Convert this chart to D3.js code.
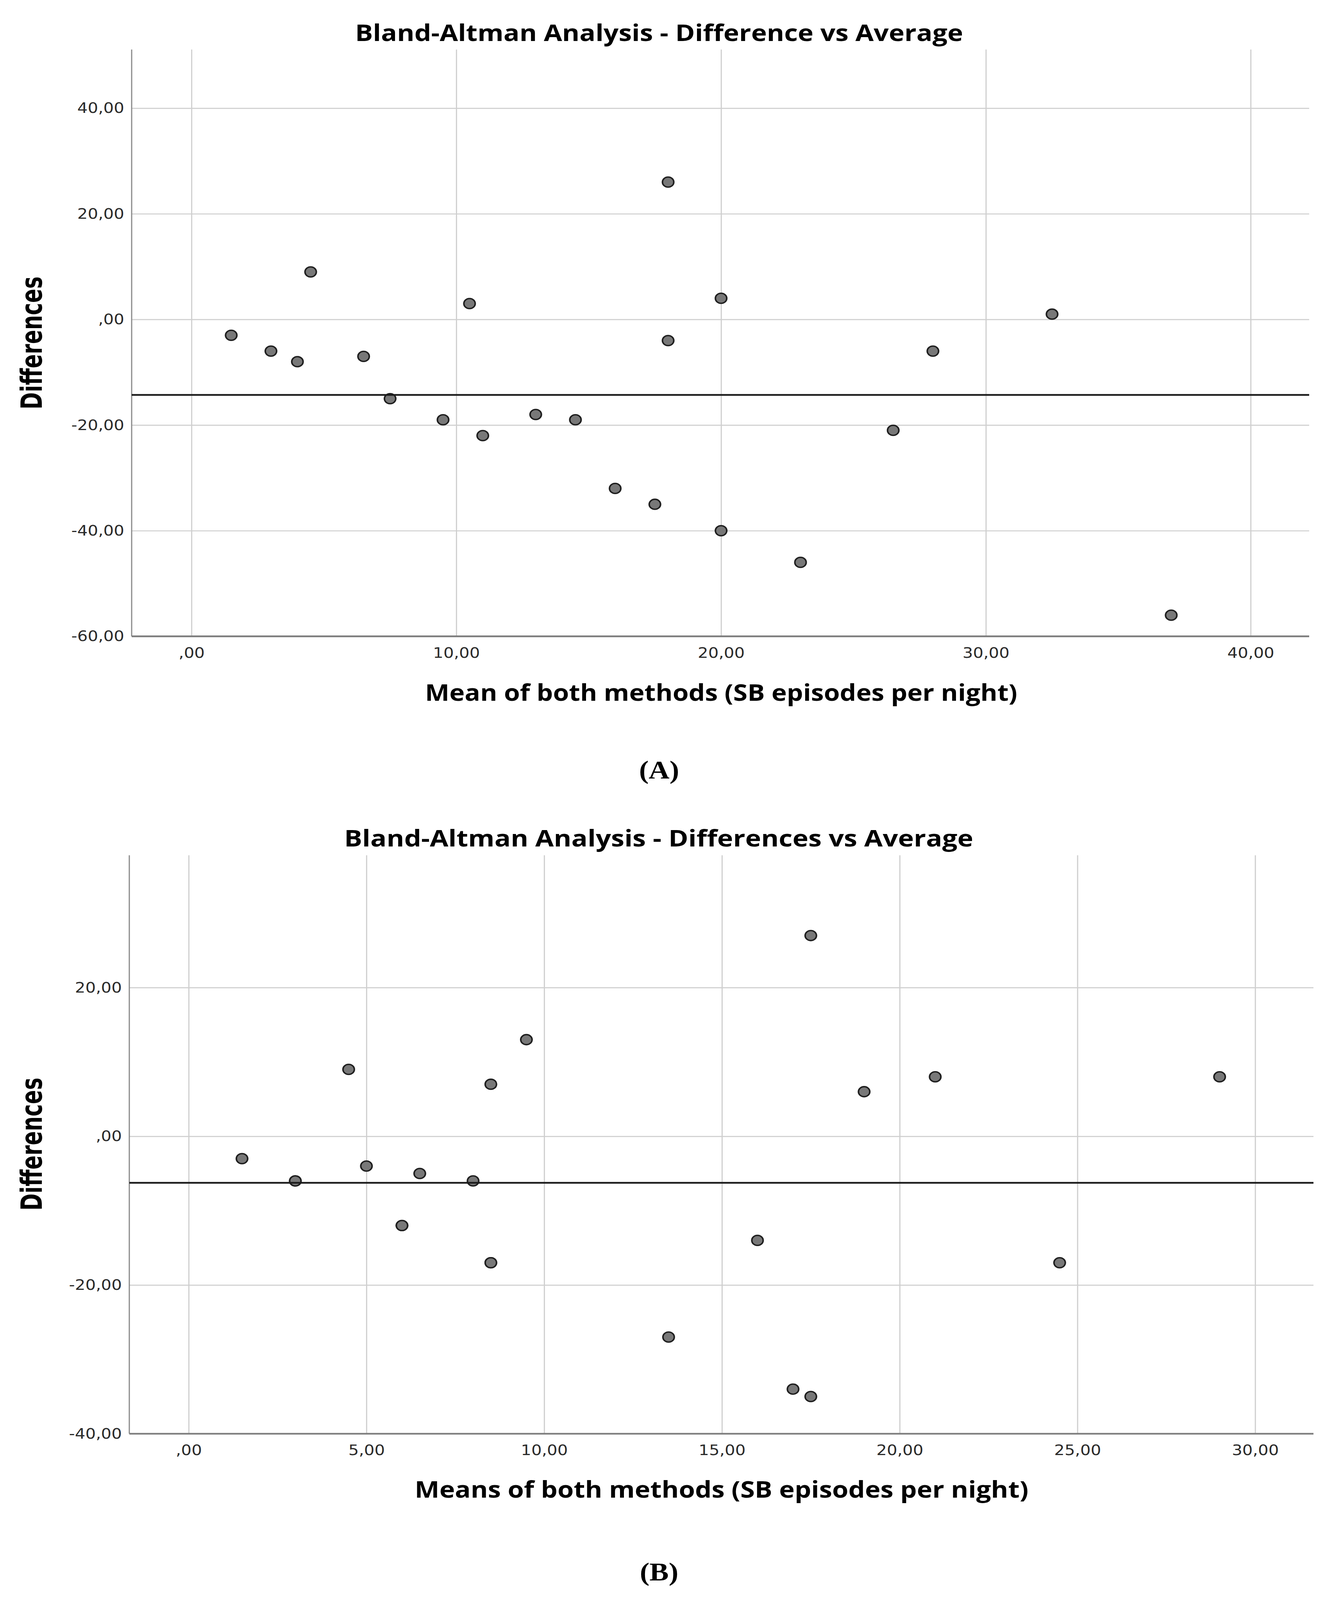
<!DOCTYPE html>
<html>
<head>
<meta charset="utf-8">
<script src="https://cdn.jsdelivr.net/npm/d3@7"></script>
<style>
  html, body { margin: 0; background: #fff; overflow: hidden; }
  svg { display: block; }
</style>
</head>
<body>
<svg viewBox="0 0 3412 4619" preserveAspectRatio="none"></svg>
<script>
// Panel A - Difference vs Average
var meanA = [1.5, 3, 4, 4.5, 6.5, 7.5, 9.5, 10.5, 11, 13, 14.5, 16, 17.5, 18, 18, 20, 20, 23, 26.5, 28, 32.5, 37];
var diffA = [-3, -6, -8, 9, -7, -15, -19, 3, -22, -18, -19, -32, -35, 26, -4, 4, -40, -46, -21, -6, 1, -56];
var biasA = -14.3;
var xTicksA = [0, 10, 20, 30, 40];
var yTicksA = [40, 20, 0, -20, -40, -60];

// Panel B - Differences vs Average
var meanB = [1.5, 3, 3, 4.5, 5, 6, 6, 6.5, 8, 8.5, 8.5, 8.5, 9.5, 13.5, 16, 17, 17.5, 17.5, 19, 21, 24.5, 29];
var diffB = [-3, -6, -6, 9, -4, -12, -12, -5, -6, 7, -17, -17, 13, -27, -14, -34, 27, -35, 6, 8, -17, 8];
var biasB = -6.25;
var xTicksB = [0, 5, 10, 15, 20, 25, 30];
var yTicksB = [20, 0, -20, -40];

//het venster is lager dan de figuur, dus de hele tekening rekt mee
var svg = d3.select("svg")
    .attr("width", window.innerWidth)
    .attr("height", window.innerHeight);

//SPSS zet een komma en laat de nul weg: ",00", "40,00", "-20,00"
function spss(v) {
  var s = Math.abs(v).toFixed(2).replace(".", ",");
  if (Math.abs(v) < 1) s = s.replace(/^0/, "");
  return (v < 0 ? "-" : "") + s;
}

function panel(o) {
  var x = d3.scaleLinear().domain(o.xDomain).range([o.left, o.right]),
      y = d3.scaleLinear().domain(o.yDomain).range([o.bottom, o.top]);

  var g = svg.append("g");

  //verticale gridlijnen + x labels
  var gx = g.append("g")
      .attr("transform", "translate(0," + o.bottom + ")")
      .call(d3.axisBottom(x).tickValues(o.xTicks).tickFormat(spss)
        .tickSizeInner(-(o.bottom - o.top)).tickSizeOuter(0).tickPadding(32));
  gx.select(".domain").remove();
  gx.selectAll("line").attr("stroke", "#cfcfcf").attr("stroke-width", 3);
  gx.selectAll("text").attr("font-family", "DejaVu Sans").attr("font-size", 42).attr("fill", "#2a2a2a");

  //horizontale gridlijnen + y labels
  var gy = g.append("g")
      .attr("transform", "translate(" + o.left + ",0)")
      .call(d3.axisLeft(y).tickValues(o.yTicks).tickFormat(spss)
        .tickSizeInner(-(o.right - o.left)).tickSizeOuter(0).tickPadding(19));
  gy.select(".domain").remove();
  gy.selectAll("line").attr("stroke", "#cfcfcf").attr("stroke-width", 3);
  gy.selectAll("text").attr("font-family", "DejaVu Sans").attr("font-size", 42).attr("fill", "#2a2a2a");

  //assen
  g.append("line").attr("x1", o.left).attr("x2", o.left).attr("y1", o.top).attr("y2", o.bottom)
      .attr("stroke", "#8a8a8a").attr("stroke-width", 3);
  g.append("line").attr("x1", o.left).attr("x2", o.right).attr("y1", o.bottom).attr("y2", o.bottom)
      .attr("stroke", "#7d7d7d").attr("stroke-width", 5);

  //punten
  g.selectAll(".dot")
    .data(o.means)
    .enter().append("circle")
      .attr("class", "dot")
      .attr("cx", function(d) { return x(d); })
      .attr("cy", function(d, i) { return y(o.diffs[i]); })
      .attr("r", 14.5)
      .attr("fill", "#787878")
      .attr("stroke", "#1e1e1e")
      .attr("stroke-width", 4);

  //gemiddelde verschil
  g.append("line").attr("x1", o.left).attr("x2", o.right)
      .attr("y1", y(o.bias)).attr("y2", y(o.bias))
      .attr("stroke", "#1c1c1c").attr("stroke-width", 5);

  //titels
  g.append("text").attr("x", o.titleX).attr("y", o.titleY)
      .attr("text-anchor", "middle").attr("font-family", "Open Sans").attr("font-weight", "bold")
      .attr("font-size", 66).attr("textLength", o.titleLen).attr("lengthAdjust", "spacingAndGlyphs")
      .text(o.title);
  g.append("text").attr("x", o.xLabelX).attr("y", o.xLabelY)
      .attr("text-anchor", "middle").attr("font-family", "Open Sans").attr("font-weight", "bold")
      .attr("font-size", 67).attr("textLength", o.xLabelLen).attr("lengthAdjust", "spacingAndGlyphs")
      .text(o.xLabel);
  g.append("text")
      .attr("transform", "translate(107," + o.yLabelY + ") rotate(-90)")
      .attr("text-anchor", "middle").attr("font-family", "DejaVu Sans").attr("font-weight", "bold")
      .attr("font-size", 75).attr("textLength", 384).attr("lengthAdjust", "spacingAndGlyphs")
      .text("Differences");
  g.append("text").attr("x", 1687).attr("y", o.tagY)
      .attr("text-anchor", "middle").attr("font-family", "Liberation Serif").attr("font-weight", "bold")
      .attr("font-size", 74)
      .text(o.tag);
}

panel({
  means: meanA, diffs: diffA, bias: biasA, xTicks: xTicksA, yTicks: yTicksA,
  xDomain: [-2.26, 42.21], yDomain: [-60, 51.1],
  left: 337, right: 3351, top: 143, bottom: 1837,
  title: "Bland-Altman Analysis - Difference vs Average", titleX: 1687, titleY: 118, titleLen: 1556,
  xLabel: "Mean of both methods (SB episodes per night)", xLabelX: 1846, xLabelY: 2023, xLabelLen: 1516,
  yLabelY: 990, tag: "(A)", tagY: 2248
});

panel({
  means: meanB, diffs: diffB, bias: biasB, xTicks: xTicksB, yTicks: yTicksB,
  xDomain: [-1.67, 31.64], yDomain: [-40, 37.8],
  left: 331, right: 3362, top: 2469, bottom: 4139,
  title: "Bland-Altman Analysis - Differences vs Average", titleX: 1686, titleY: 2444, titleLen: 1610,
  xLabel: "Means of both methods (SB episodes per night)", xLabelX: 1847, xLabelY: 4324, xLabelLen: 1571,
  yLabelY: 3303, tag: "(B)", tagY: 4563
});
</script>
</body>
</html>
